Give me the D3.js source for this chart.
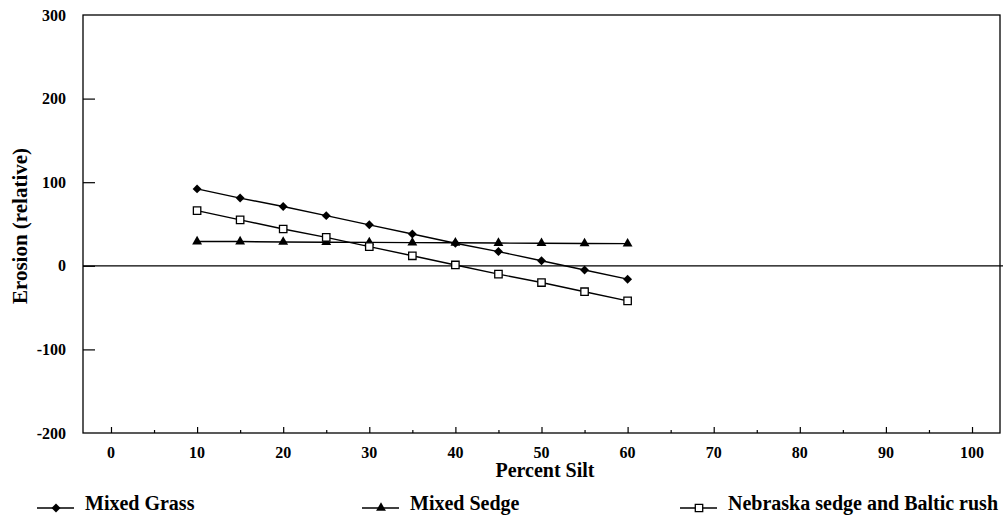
<!DOCTYPE html>
<html><head><meta charset="utf-8">
<script src="https://cdn.jsdelivr.net/npm/d3@7"></script>
<style>body{margin:0;background:#fff}svg{display:block}
text{font-family:"Liberation Serif","Times New Roman",Times,serif;font-weight:bold}</style>
</head><body>
<svg id="c" width="1006" height="517"></svg>
<script>
const silt = [10, 15, 20, 25, 30, 35, 40, 45, 50, 55, 60];
const mixedGrass = [92, 81, 71, 60, 49, 38, 27, 17, 6, -5, -16];
const mixedSedge = [29, 29, 28.5, 28.2, 28, 27.7, 27.5, 27.2, 27, 26.7, 26.5];
const nebraska = [66, 55, 44, 34, 23, 12, 1, -10, -20, -31, -42];
const xTicks = [0, 10, 20, 30, 40, 50, 60, 70, 80, 90, 100];
const xMinor = [5, 15, 25, 35, 45, 55, 65, 75, 85, 95];
const yTicks = [-200, -100, 0, 100, 200, 300];
const seriesNames = ["Mixed Grass", "Mixed Sedge", "Nebraska sedge and Baltic rush"];

const svg = d3.select("#c");
const L = 83, R = 1000, T = 15, B = 433;
const x = d3.scaleLinear().domain([-3.25, 103.25]).range([L, R]);
const y = d3.scaleLinear().domain([-200, 300]).range([B, T]);

// frame
svg.append("rect").attr("x", L).attr("y", T).attr("width", R - L).attr("height", B - T)
  .attr("fill", "none").attr("stroke", "#000").attr("stroke-width", 1.3);

// left axis
const ya = svg.append("g").attr("transform", `translate(${L},0)`)
  .call(d3.axisRight(y).tickValues(yTicks.filter(v => v > -200 && v < 300)).tickSize(12).tickFormat(""));
ya.select(".domain").remove();
ya.selectAll("line").attr("stroke", "#000").attr("stroke-width", 1.2);
svg.append("g").selectAll("text").data(yTicks).join("text")
  .attr("x", 66).attr("y", d => y(d)).attr("dy", "0.35em").attr("text-anchor", "end")
  .attr("font-size", 16)
  .text(d => d);

// bottom axis
const xa = svg.append("g").attr("transform", `translate(0,${B})`)
  .call(d3.axisTop(x).tickValues(xTicks).tickSize(6).tickFormat(""));
xa.select(".domain").remove();
xa.selectAll("line").attr("stroke", "#000").attr("stroke-width", 1.2);
const xm = svg.append("g").attr("transform", `translate(0,${B})`)
  .call(d3.axisTop(x).tickValues(xMinor).tickSize(3).tickFormat(""));
xm.select(".domain").remove();
xm.selectAll("line").attr("stroke", "#000").attr("stroke-width", 1.2);
svg.append("g").selectAll("text").data(xTicks).join("text")
  .attr("x", d => x(d)).attr("y", 458).attr("text-anchor", "middle")
  .attr("font-size", 16)
  .text(d => d);

// zero line
svg.append("line").attr("x1", L).attr("x2", R + 3).attr("y1", y(0)).attr("y2", y(0))
  .attr("stroke", "#000").attr("stroke-width", 1.3);

// axis titles
svg.append("text").attr("x", 545).attr("y", 477).attr("text-anchor", "middle")
  .attr("font-size", 20)
  .text("Percent Silt");
svg.append("text").attr("transform", `translate(27,226) rotate(-90)`)
  .attr("text-anchor", "middle")
  .attr("font-size", 21)
  .text("Erosion (relative)");

// series
const squareDiamond = {
  draw(ctx, size) {
    const r = Math.sqrt(size / 2);
    ctx.moveTo(0, -r); ctx.lineTo(r, 0); ctx.lineTo(0, r); ctx.lineTo(-r, 0); ctx.closePath();
  }
};
const data = [mixedGrass, mixedSedge, nebraska];
const symbols = [squareDiamond, d3.symbolTriangle, d3.symbolSquare];
const sizes = [40, 42, 55];
const line = d3.line().x(d => x(d[0])).y(d => y(d[1]));

function drawMarker(g, k, cx, cy) {
  const p = g.append("path").attr("d", d3.symbol().type(symbols[k]).size(sizes[k])())
    .attr("transform", `translate(${cx},${cy})`);
  if (k === 2) p.attr("fill", "#fff").attr("stroke", "#000").attr("stroke-width", 1.3);
  else p.attr("fill", "#000");
}

data.forEach((vals, k) => {
  const pts = silt.map((s, i) => [s, vals[i]]);
  const g = svg.append("g");
  g.append("path").attr("d", line(pts)).attr("fill", "none").attr("stroke", "#000").attr("stroke-width", 1.4);
  pts.forEach(p => drawMarker(g, k, x(p[0]), y(p[1])));
});

// legend
const legX = [37, 362, 680];
const legY = 508;
seriesNames.forEach((name, k) => {
  const g = svg.append("g");
  g.append("line").attr("x1", legX[k]).attr("x2", legX[k] + 37).attr("y1", legY).attr("y2", legY)
    .attr("stroke", "#000").attr("stroke-width", 1.3);
  drawMarker(g, k, legX[k] + 19, legY);
  g.append("text").attr("x", legX[k] + 48).attr("y", legY + 2)
    .attr("font-size", 20)
    .text(name);
});
</script>
</body></html>
